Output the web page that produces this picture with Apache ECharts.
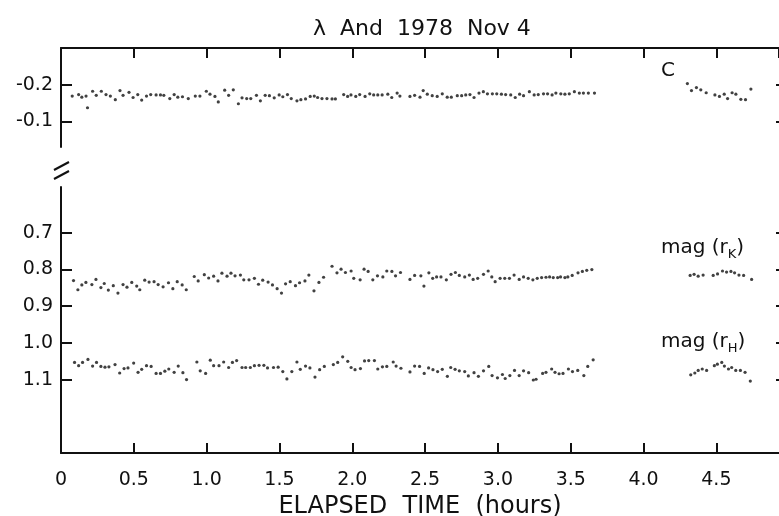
<!DOCTYPE html>
<html>
<head>
<meta charset="utf-8">
<script src="https://cdn.jsdelivr.net/npm/echarts@6.0.0/dist/echarts.min.js"></script>
<style>
  html, body { margin: 0; padding: 0; background: #fff; }
  #chart { width: 779px; height: 516px; }
</style>
</head>
<body>
<div id="chart"></div>
<script>
// comparison star C (upper panel)
const cTimes = [0.077, 0.121, 0.143, 0.172, 0.182, 0.217, 0.242, 0.277, 0.309, 0.339,
  0.373, 0.405, 0.426, 0.467, 0.495, 0.527, 0.554, 0.587, 0.616, 0.653,
  0.683, 0.706, 0.747, 0.777, 0.802, 0.834, 0.874, 0.922, 0.954, 0.998,
  1.023, 1.057, 1.080, 1.124, 1.151, 1.183, 1.218, 1.243, 1.275, 1.303,
  1.342, 1.369, 1.402, 1.431, 1.464, 1.498, 1.523, 1.555, 1.581, 1.620,
  1.647, 1.679, 1.711, 1.739, 1.762, 1.792, 1.826, 1.861, 1.884, 1.941,
  1.968, 1.991, 2.024, 2.051, 2.088, 2.120, 2.147, 2.175, 2.205, 2.244,
  2.271, 2.308, 2.327, 2.396, 2.428, 2.465, 2.487, 2.515, 2.549, 2.583,
  2.618, 2.652, 2.680, 2.721, 2.751, 2.779, 2.808, 2.836, 2.870, 2.900,
  2.928, 2.962, 2.992, 3.024, 3.053, 3.088, 3.119, 3.149, 3.176, 3.216,
  3.249, 3.277, 3.313, 3.341, 3.372, 3.398, 3.432, 3.460, 3.490, 3.525,
  3.559, 3.587, 3.621, 3.663,
  4.301, 4.329, 4.363, 4.393, 4.430, 4.490, 4.521, 4.554, 4.577, 4.608,
  4.634, 4.668, 4.700, 4.737];
const cMags = [-0.169, -0.173, -0.166, -0.169, -0.137, -0.182, -0.171, -0.182, -0.173, -0.169,
  -0.159, -0.184, -0.171, -0.179, -0.165, -0.173, -0.158, -0.169, -0.173, -0.172,
  -0.172, -0.171, -0.162, -0.173, -0.166, -0.167, -0.162, -0.169, -0.169, -0.182,
  -0.174, -0.168, -0.153, -0.185, -0.171, -0.186, -0.148, -0.164, -0.162, -0.162,
  -0.171, -0.156, -0.171, -0.170, -0.164, -0.172, -0.167, -0.173, -0.162, -0.156,
  -0.159, -0.161, -0.168, -0.169, -0.165, -0.162, -0.162, -0.161, -0.161, -0.173,
  -0.168, -0.172, -0.168, -0.173, -0.168, -0.175, -0.172, -0.172, -0.172, -0.174,
  -0.165, -0.177, -0.169, -0.168, -0.171, -0.166, -0.184, -0.174, -0.170, -0.168,
  -0.175, -0.166, -0.166, -0.170, -0.170, -0.172, -0.173, -0.165, -0.177, -0.181,
  -0.175, -0.175, -0.175, -0.174, -0.173, -0.172, -0.165, -0.174, -0.170, -0.181,
  -0.172, -0.173, -0.175, -0.175, -0.172, -0.177, -0.175, -0.174, -0.175, -0.181,
  -0.177, -0.177, -0.177, -0.177,
  -0.203, -0.184, -0.192, -0.186, -0.178, -0.172, -0.168, -0.174, -0.162, -0.178,
  -0.174, -0.160, -0.159, -0.188];

// mag (rK)
const rkTimes = [0.086, 0.116, 0.143, 0.171, 0.212, 0.240, 0.274, 0.297, 0.325, 0.359,
  0.391, 0.426, 0.453, 0.486, 0.520, 0.541, 0.575, 0.605, 0.639, 0.667,
  0.701, 0.738, 0.768, 0.798, 0.832, 0.860, 0.915, 0.942, 0.984, 1.014,
  1.048, 1.078, 1.105, 1.140, 1.167, 1.195, 1.232, 1.255, 1.291, 1.328,
  1.356, 1.385, 1.422, 1.452, 1.484, 1.514, 1.542, 1.574, 1.610, 1.638,
  1.675, 1.702, 1.737, 1.771, 1.803, 1.861, 1.895, 1.923, 1.953, 1.992,
  2.010, 2.054, 2.081, 2.109, 2.141, 2.173, 2.210, 2.237, 2.272, 2.297,
  2.331, 2.396, 2.428, 2.471, 2.492, 2.526, 2.552, 2.579, 2.609, 2.646,
  2.678, 2.708, 2.735, 2.772, 2.804, 2.830, 2.861, 2.901, 2.933, 2.958,
  2.981, 3.015, 3.047, 3.079, 3.111, 3.146, 3.176, 3.208, 3.240, 3.270,
  3.300, 3.330, 3.355, 3.380, 3.410, 3.430, 3.460, 3.480, 3.510, 3.550,
  3.580, 3.610, 3.645,
  4.320, 4.347, 4.375, 4.409, 4.478, 4.508, 4.542, 4.570, 4.600, 4.625,
  4.655, 4.687, 4.742];
const rkMags = [0.830, 0.855, 0.842, 0.835, 0.841, 0.827, 0.849, 0.838, 0.856, 0.844,
  0.864, 0.841, 0.848, 0.835, 0.845, 0.855, 0.829, 0.834, 0.833, 0.841,
  0.847, 0.836, 0.852, 0.833, 0.842, 0.855, 0.819, 0.831, 0.814, 0.823,
  0.818, 0.831, 0.810, 0.818, 0.810, 0.817, 0.815, 0.828, 0.828, 0.824,
  0.840, 0.829, 0.834, 0.842, 0.852, 0.864, 0.839, 0.833, 0.844, 0.836,
  0.831, 0.815, 0.858, 0.835, 0.821, 0.791, 0.809, 0.799, 0.808, 0.804,
  0.824, 0.828, 0.799, 0.805, 0.828, 0.817, 0.820, 0.804, 0.805, 0.817,
  0.808, 0.827, 0.816, 0.817, 0.845, 0.809, 0.824, 0.820, 0.820, 0.828,
  0.813, 0.808, 0.816, 0.820, 0.815, 0.827, 0.824, 0.813, 0.804, 0.820,
  0.833, 0.824, 0.824, 0.824, 0.815, 0.827, 0.820, 0.824, 0.828, 0.824,
  0.822, 0.821, 0.820, 0.822, 0.822, 0.820, 0.822, 0.820, 0.816, 0.809,
  0.805, 0.802, 0.800,
  0.816, 0.813, 0.818, 0.815, 0.816, 0.812, 0.804, 0.807, 0.805, 0.809,
  0.815, 0.816, 0.827];

// mag (rH)
const rhTimes = [0.093, 0.121, 0.148, 0.185, 0.217, 0.244, 0.274, 0.302, 0.329, 0.371,
  0.403, 0.433, 0.460, 0.499, 0.529, 0.554, 0.587, 0.619, 0.653, 0.683,
  0.713, 0.740, 0.777, 0.805, 0.837, 0.862, 0.933, 0.956, 0.993, 1.025,
  1.048, 1.085, 1.117, 1.151, 1.177, 1.206, 1.243, 1.268, 1.300, 1.328,
  1.360, 1.393, 1.418, 1.459, 1.491, 1.523, 1.551, 1.585, 1.620, 1.643,
  1.679, 1.709, 1.744, 1.776, 1.808, 1.870, 1.900, 1.934, 1.969, 1.992,
  2.019, 2.056, 2.084, 2.113, 2.152, 2.175, 2.207, 2.237, 2.281, 2.301,
  2.334, 2.396, 2.428, 2.462, 2.494, 2.524, 2.554, 2.586, 2.618, 2.653,
  2.676, 2.706, 2.735, 2.772, 2.797, 2.836, 2.866, 2.901, 2.937, 2.960,
  2.997, 3.031, 3.050, 3.082, 3.114, 3.146, 3.176, 3.211, 3.243, 3.262,
  3.307, 3.330, 3.369, 3.392, 3.420, 3.447, 3.484, 3.512, 3.548, 3.590,
  3.617, 3.654,
  4.324, 4.352, 4.375, 4.403, 4.433, 4.486, 4.507, 4.537, 4.555, 4.583,
  4.605, 4.633, 4.665, 4.697, 4.733];
const rhMags = [1.053, 1.062, 1.053, 1.045, 1.063, 1.053, 1.064, 1.066, 1.065, 1.059,
  1.082, 1.070, 1.068, 1.055, 1.080, 1.072, 1.062, 1.064, 1.083, 1.083,
  1.077, 1.071, 1.080, 1.063, 1.081, 1.100, 1.052, 1.076, 1.083, 1.047,
  1.062, 1.062, 1.052, 1.067, 1.053, 1.048, 1.067, 1.067, 1.067, 1.062,
  1.061, 1.061, 1.068, 1.067, 1.066, 1.078, 1.098, 1.078, 1.052, 1.072,
  1.063, 1.068, 1.093, 1.073, 1.064, 1.059, 1.053, 1.038, 1.050, 1.067,
  1.073, 1.070, 1.049, 1.048, 1.048, 1.071, 1.065, 1.064, 1.052, 1.063,
  1.069, 1.079, 1.063, 1.064, 1.083, 1.068, 1.073, 1.078, 1.072, 1.091,
  1.067, 1.072, 1.076, 1.078, 1.090, 1.081, 1.091, 1.076, 1.064, 1.089,
  1.095, 1.086, 1.097, 1.089, 1.075, 1.089, 1.076, 1.081, 1.101, 1.099,
  1.083, 1.080, 1.071, 1.080, 1.084, 1.083, 1.071, 1.078, 1.075, 1.089,
  1.064, 1.046,
  1.087, 1.082, 1.075, 1.071, 1.075, 1.062, 1.058, 1.053, 1.063, 1.071,
  1.067, 1.075, 1.075, 1.080, 1.104];

// tick labels
const upperTicks = [-0.2, -0.1];
const lowerTicks = [0.7, 0.8, 0.9, 1.0, 1.1];

const ink = '#111';
const font = 'DejaVu Sans';

function pairs(times, mags) {
  return times.map((t, i) => [t, mags[i]]);
}

const chart = echarts.init(document.getElementById('chart'), null, { renderer: 'canvas' });

const yCommon = {
  type: 'value',
  inverse: true,
  splitLine: { show: false },
  axisLine: { show: true, lineStyle: { color: ink, width: 2 } },
  axisTick: { show: true, inside: true, length: 11, lineStyle: { color: ink, width: 2 } },
};

// right frame edge sits just past the window, only tick stubs show
const yRight = {
  type: 'value',
  inverse: true,
  position: 'right',
  splitLine: { show: false },
  axisLine: { show: false },
  axisLabel: { show: false },
};
const rightTick = { show: true, inside: true, length: 3, lineStyle: { color: ink, width: 2 } };

const xCommon = {
  type: 'value',
  min: 0,
  max: 4.93,
  interval: 0.5,
  splitLine: { show: false },
  axisLine: { show: true, lineStyle: { color: ink, width: 2 } },
  axisTick: { show: true, inside: true, length: 10, lineStyle: { color: ink, width: 2 } },
};

const yLabel = {
  margin: 8,
  fontFamily: font,
  fontSize: 19,
  color: ink,
  formatter: (v) => v.toFixed(1),
};

const subRich = {
  a: { fontFamily: font, fontSize: 20, lineHeight: 26, verticalAlign: 'middle' },
  s: { fontFamily: font, fontSize: 13, lineHeight: 13, verticalAlign: 'bottom' },
};

const option = {
  animation: false,
  backgroundColor: '#fff',
  title: {
    text: 'λ  And  1978  Nov 4',
    left: 308,
    top: 13,
    textStyle: { fontFamily: font, fontSize: 22, fontWeight: 'normal', color: ink },
  },
  grid: [
    { left: 61, right: 0, top: 48, height: 99, outerBoundsMode: 'none' },
    { left: 61, right: 0, top: 187, height: 266, outerBoundsMode: 'none' },
  ],
  xAxis: [
    Object.assign({}, xCommon, {
      gridIndex: 0,
      position: 'top',
      axisLabel: { show: false },
    }),
    Object.assign({}, xCommon, {
      gridIndex: 1,
      position: 'bottom',
      name: 'ELAPSED  TIME  (hours)',
      nameLocation: 'middle',
      nameGap: 42,
      nameTextStyle: { fontFamily: font, fontSize: 24, color: ink },
      axisLabel: {
        margin: 18,
        fontFamily: font,
        fontSize: 19,
        color: ink,
        showMaxLabel: false,
        formatter: (v) => (v === 0 ? '0' : v.toFixed(1)),
      },
    }),
  ],
  yAxis: [
    Object.assign({}, yCommon, {
      gridIndex: 0,
      min: -0.3,
      max: -0.03,
      axisTick: Object.assign({}, yCommon.axisTick, { customValues: upperTicks }),
      axisLabel: Object.assign({ customValues: upperTicks }, yLabel),
    }),
    Object.assign({}, yCommon, {
      gridIndex: 1,
      min: 0.575,
      max: 1.3,
      axisTick: Object.assign({}, yCommon.axisTick, { customValues: lowerTicks }),
      axisLabel: Object.assign({ customValues: lowerTicks }, yLabel),
    }),
    Object.assign({}, yRight, {
      gridIndex: 0,
      min: -0.3,
      max: -0.03,
      axisTick: Object.assign({ customValues: upperTicks }, rightTick),
    }),
    Object.assign({}, yRight, {
      gridIndex: 1,
      min: 0.575,
      max: 1.3,
      axisTick: Object.assign({ customValues: lowerTicks }, rightTick),
    }),
  ],
  series: [
    {
      name: 'C',
      type: 'scatter',
      xAxisIndex: 0,
      yAxisIndex: 0,
      symbolSize: 3.2,
      itemStyle: { color: ink },
      data: pairs(cTimes, cMags),
    },
    {
      name: 'mag (rK)',
      type: 'scatter',
      xAxisIndex: 1,
      yAxisIndex: 1,
      symbolSize: 3.2,
      itemStyle: { color: ink },
      data: pairs(rkTimes, rkMags),
    },
    {
      name: 'mag (rH)',
      type: 'scatter',
      xAxisIndex: 1,
      yAxisIndex: 1,
      symbolSize: 3.2,
      itemStyle: { color: ink },
      data: pairs(rhTimes, rhMags),
    },
  ],
  graphic: [
    // axis break mark
    { type: 'line', shape: { x1: 54, y1: 170, x2: 69, y2: 162 }, style: { stroke: ink, lineWidth: 2 } },
    { type: 'line', shape: { x1: 54, y1: 179, x2: 69, y2: 171 }, style: { stroke: ink, lineWidth: 2 } },
    {
      type: 'text', left: 661, top: 61,
      style: { text: 'C', font: '20px "DejaVu Sans"', fill: ink },
    },
    {
      type: 'text', left: 661, top: 238,
      style: { text: '{a|mag (r}{s|K}{a|)}', fill: ink, rich: subRich },
    },
    {
      type: 'text', left: 661, top: 332,
      style: { text: '{a|mag (r}{s|H}{a|)}', fill: ink, rich: subRich },
    },
  ],
};

chart.setOption(option);
</script>
</body>
</html>
